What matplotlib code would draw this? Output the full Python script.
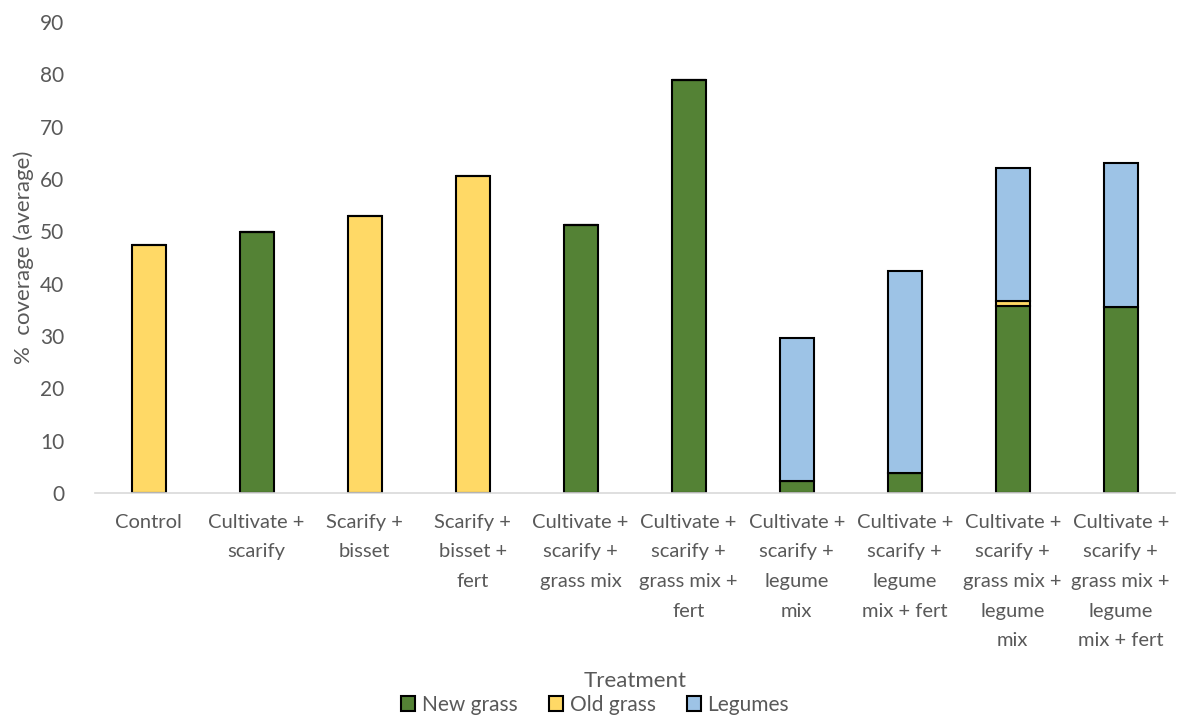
import matplotlib.pyplot as plt
import numpy as np

plt.rcParams['font.family'] = ['Lato', 'DejaVu Sans']

treatments = [
    'Control',
    'Cultivate +\nscarify',
    'Scarify +\nbisset',
    'Scarify +\nbisset +\nfert',
    'Cultivate +\nscarify +\ngrass mix',
    'Cultivate +\nscarify +\ngrass mix +\nfert',
    'Cultivate +\nscarify +\nlegume\nmix',
    'Cultivate +\nscarify +\nlegume\nmix + fert',
    'Cultivate +\nscarify +\ngrass mix +\nlegume\nmix',
    'Cultivate +\nscarify +\ngrass mix +\nlegume\nmix + fert',
]
new_grass = [0, 49.9, 0, 0, 51.2, 79.0, 2.2, 3.9, 35.8, 35.5]
old_grass = [47.4, 0, 53.0, 60.5, 0, 0, 0, 0, 0.8, 0]
legumes = [0, 0, 0, 0, 0, 0, 27.4, 38.5, 25.5, 27.5]

green = '#548235'
yellow = '#FFD966'
blue = '#9DC3E6'
grey = '#595959'

fig = plt.figure(figsize=(11.83, 7.18), dpi=100)
ax = fig.add_axes([0.080, 0.3134, 0.913, 0.656])

x = np.arange(len(treatments))
w = 0.315
ng = np.array(new_grass)
og = np.array(old_grass)
lg = np.array(legumes)

def draw(vals, bottom, color, label):
    ax.bar(x, vals, w, bottom=bottom, color=color, edgecolor='black',
           linewidth=1.5, label=label)

draw(ng, 0, green, 'New grass')
draw(og, ng, yellow, 'Old grass')
draw(lg, ng + og, blue, 'Legumes')

ax.set_ylim(0, 90)
ax.set_xlim(-0.5, len(treatments) - 0.5)
ax.set_yticks(range(0, 91, 10))
ax.set_xticks(x)
ax.set_xticklabels(treatments, linespacing=1.9)
ax.tick_params(length=0, labelsize=14.5, colors=grey)
ax.tick_params(axis='x', pad=15)
ax.tick_params(axis='y', labelsize=15, pad=22)
for side in ['top', 'right', 'left']:
    ax.spines[side].set_visible(False)
ax.spines['bottom'].set_color('#d9d9d9')
ax.spines['bottom'].set_linewidth(1.2)

ax.set_ylabel('%  coverage (average)', fontsize=16, color=grey, labelpad=4)
fig.text(0.537, 0.052, 'Treatment', fontsize=16, color=grey, ha='center', va='center')
fig.legend(loc='center', bbox_to_anchor=(0.503, 0.018), ncol=3, frameon=False,
           fontsize=15, handlelength=0.7, handleheight=0.7, handletextpad=0.3,
           columnspacing=1.5, labelcolor=grey)

fig.savefig('out.png', dpi=100)
